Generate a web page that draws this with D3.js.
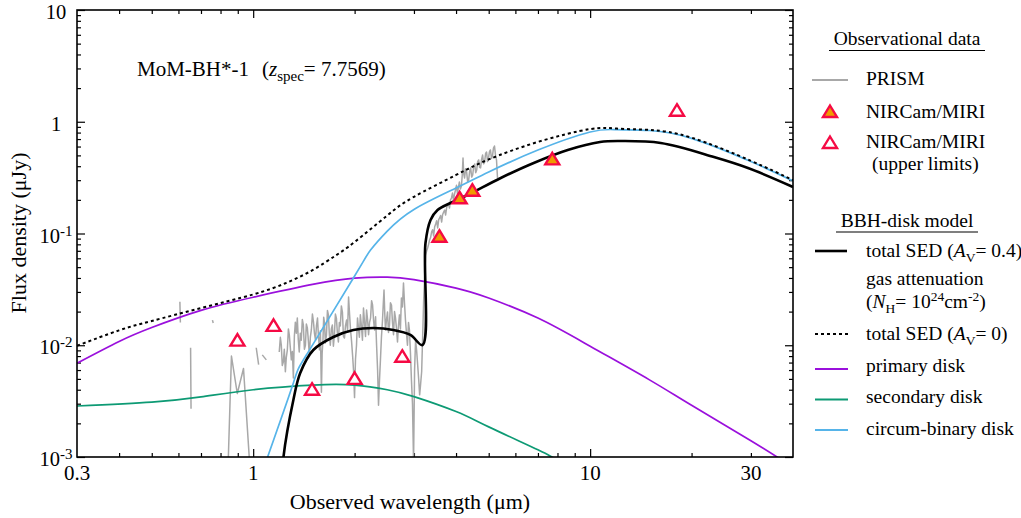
<!DOCTYPE html>
<html>
<head>
<meta charset="utf-8">
<script src="https://cdn.jsdelivr.net/npm/d3@7"></script>
<style>
  body { margin: 0; background: #fff; }
  svg { display: block; font-family: "Liberation Serif", "Times New Roman", serif; }
</style>
</head>
<body>
<div id="chart"></div>
<script>
// Wavelength in micron, flux density in microJy

// NIRSpec PRISM spectrum (null flux = gap in the spectrum)
const prismWave = [
  0.606, 0.608, 0.608,
  0.652, 0.654, 0.654,
  0.757, 0.761, 0.761,
  0.842, 0.862, 0.897, 0.936, 0.978, 0.978,
  1.021, 1.038, 1.038,
  1.064, 1.094, 1.094,
  1.195, 1.204, 1.212, 1.220, 1.229, 1.237, 1.246, 1.254, 1.263, 1.272,
  1.280, 1.289, 1.298, 1.307, 1.316, 1.325, 1.334, 1.343, 1.352, 1.361,
  1.370, 1.380, 1.389, 1.399, 1.409, 1.419, 1.429, 1.438, 1.448, 1.458,
  1.468, 1.478, 1.488, 1.499, 1.510, 1.520, 1.531, 1.541, 1.552, 1.562,
  1.573, 1.583, 1.594, 1.602, 1.611, 1.619, 1.627, 1.638, 1.650, 1.661,
  1.672, 1.683, 1.694, 1.706, 1.718, 1.730, 1.742, 1.754, 1.766, 1.778,
  1.790, 1.802, 1.814, 1.827, 1.840, 1.853, 1.866, 1.879, 1.893, 1.906,
  1.919, 1.932, 1.945, 1.958, 1.972, 1.985, 1.999, 2.012, 2.026, 2.040,
  2.053, 2.066, 2.080, 2.095, 2.110, 2.125, 2.140, 2.155, 2.170, 2.185,
  2.200, 2.215, 2.230, 2.246, 2.261, 2.277, 2.292, 2.308, 2.324, 2.340,
  2.355, 2.370, 2.386, 2.403, 2.420, 2.432, 2.445, 2.458, 2.470, 2.487,
  2.504, 2.521, 2.538, 2.555, 2.573, 2.591, 2.609, 2.627, 2.645, 2.663,
  2.681, 2.699, 2.717, 2.735, 2.754, 2.773, 2.793, 2.812, 2.831, 2.850,
  2.870, 2.890, 2.909, 2.929, 2.949, 2.970, 2.992, 3.013, 3.034, 3.055,
  3.077, 3.098, 3.119, 3.140, 3.162, 3.184, 3.206,
  3.250, 3.272, 3.294, 3.316, 3.338, 3.361, 3.384, 3.408, 3.432, 3.456,
  3.480, 3.504, 3.528, 3.552, 3.576, 3.600, 3.625, 3.650, 3.675, 3.700,
  3.725, 3.750, 3.775, 3.800, 3.825, 3.851, 3.877, 3.904, 3.931, 3.958,
  3.985, 4.012, 4.039, 4.066, 4.093, 4.121, 4.150, 4.172, 4.195, 4.217,
  4.240, 4.270, 4.300, 4.330, 4.360, 4.390, 4.420, 4.451, 4.482, 4.513,
  4.544, 4.575, 4.606, 4.637, 4.668, 4.699, 4.730, 4.763, 4.796, 4.829,
  4.862, 4.895, 4.928, 4.961, 4.994, 5.027, 5.060, 5.096, 5.131, 5.166,
  5.202, 5.238, 5.274, 5.310
];
const prismFlux = [
  0.0245, 0.0160, null,
  0.0095, 0.0027, null,
  0.0168, 0.0158, null,
  0.0008, 0.0080, 0.0037, 0.0062, 0.0008, null,
  0.0095, 0.0067, null,
  0.0082, 0.0074, null,
  0.0087, 0.0118, 0.0100, 0.0066, 0.0071, 0.0092, 0.0058, 0.0078, 0.0091, 0.0140,
  0.0124, 0.0095, 0.0074, 0.0088, 0.0051, 0.0120, 0.0161, 0.0128, 0.0175, 0.0112,
  0.0087, 0.0128, 0.0111, 0.0170, 0.0152, 0.0092, 0.0100, 0.0155, 0.0143, 0.0110,
  0.0082, 0.0118, 0.0137, 0.0190, 0.0161, 0.0128, 0.0111, 0.0150, 0.0175, 0.0120,
  0.0091, 0.0135, 0.0038, 0.0085, 0.0111, 0.0178, 0.0161, 0.0105, 0.0124, 0.0205,
  0.0187, 0.0125, 0.0100, 0.0140, 0.0152, 0.0098, 0.0124, 0.0190, 0.0175, 0.0128,
  0.0107, 0.0160, 0.0149, 0.0225, 0.0198, 0.0120, 0.0116, 0.0150, 0.0168, 0.0135,
  0.0270, 0.0190, 0.0137, 0.0110, 0.0082, 0.0060, 0.0034, 0.0075, 0.0100, 0.0175,
  0.0143, 0.0118, 0.0187, 0.0150, 0.0111, 0.0215, 0.0161, 0.0120, 0.0207, 0.0170,
  0.0124, 0.0160, 0.0175, 0.0250, 0.0229, 0.0165, 0.0137, 0.0180, 0.0100, 0.0060,
  0.0029, 0.0048, 0.0074, 0.0120, 0.0168, 0.0230, 0.0312, 0.0190, 0.0137, 0.0170,
  0.0198, 0.0130, 0.0152, 0.0240, 0.0229, 0.0160, 0.0124, 0.0200, 0.0175, 0.0140,
  0.0107, 0.0150, 0.0187, 0.0140, 0.0265, 0.0220, 0.0361, 0.0240, 0.0168, 0.0130,
  0.0100, 0.0160, 0.0137, 0.0085, 0.0049, 0.0030, 0.0009, 0.0060, 0.0111, 0.0090,
  0.0067, 0.0050, 0.0036, 0.0045, 0.0058, 0.0120, 0.0254,
  0.0642, 0.0700, 0.0742, 0.0800, 0.0875, 0.0920, 0.1031, 0.1080, 0.0950, 0.1150,
  0.1216, 0.1300, 0.1120, 0.1330, 0.1376, 0.1450, 0.1267, 0.1480, 0.1557, 0.1620,
  0.1464, 0.1700, 0.1799, 0.1850, 0.1691, 0.2000, 0.2078, 0.2300, 0.1995, 0.2250,
  0.2450, 0.2700, 0.2257, 0.2600, 0.2890, 0.2500, 0.2660, 0.3300, 0.4740, 0.3400,
  0.3136, 0.3800, 0.3550, 0.2900, 0.3010, 0.3600, 0.3860, 0.3200, 0.3340, 0.4000,
  0.4190, 0.3500, 0.3700, 0.4400, 0.4550, 0.3900, 0.3860, 0.4600, 0.5040, 0.4200,
  0.4360, 0.5200, 0.5360, 0.4400, 0.4740, 0.5400, 0.5590, 0.4700, 0.4940, 0.5800,
  0.6070, 0.5000, 0.4550, 0.3136
];

// NIRCam/MIRI photometry
const detWave = [3.57, 4.10, 4.47, 7.72];
const detFlux = [0.0936, 0.2065, 0.2415, 0.461];
const ulWave = [0.898, 1.149, 1.495, 2.00, 2.77, 18.1];
const ulFlux = [0.0110, 0.0149, 0.0040, 0.0050, 0.0079, 1.256];

// BBH-disk model components
const totalWave = [1.225, 1.23, 1.316, 1.379, 1.508, 1.73, 1.983, 2.274, 2.607, 2.928, 3.18,
  3.246, 3.36, 3.525, 3.85, 4.33, 5.43, 6.8, 8.58, 10.7, 12.3, 16.2, 23.3, 29.4, 40];
const totalFlux = [0.0008, 0.001, 0.00324, 0.00565, 0.00907, 0.01186, 0.0137, 0.01427, 0.0137, 0.01236, 0.01005,
  0.0822, 0.132, 0.162, 0.1875, 0.221, 0.314, 0.428, 0.559, 0.659, 0.672, 0.646, 0.484, 0.386, 0.261];

const intrinsicWave = [0.3, 0.4, 0.5, 0.7, 1, 1.25, 1.5, 1.75, 2, 2.5, 3, 4, 5, 7, 10, 12, 15, 20, 30, 40];
const intrinsicFlux = [0.0099, 0.0136, 0.0165, 0.0215, 0.0285, 0.036, 0.047, 0.063, 0.084, 0.145, 0.213,
  0.334, 0.46, 0.66, 0.86, 0.868, 0.845, 0.72, 0.447, 0.30];

const primaryWave = [0.3, 0.4, 0.5, 0.7, 1, 1.5, 2, 2.5, 3, 4, 5, 7, 10, 15, 20, 30, 40];
const primaryFlux = [0.0069, 0.0108, 0.0144, 0.0205, 0.0269, 0.0350, 0.0399, 0.0407, 0.0386, 0.0325,
  0.0265, 0.0175, 0.0098, 0.0049, 0.0029, 0.00140, 0.00081];

const secondaryWave = [0.3, 0.5, 0.7, 1, 1.5, 2, 2.5, 3, 4, 5, 7, 7.7, 8.5];
const secondaryFlux = [0.00286, 0.0031, 0.00345, 0.0040, 0.0044, 0.0044, 0.0040, 0.00347, 0.00255,
  0.00186, 0.00116, 0.00100, 0.00087];

const cbdWave = [1.09, 1.316, 1.45, 2, 2.23, 2.5, 3, 4, 5, 7, 10, 12, 15, 20, 30, 40];
const cbdFlux = [0.0009, 0.0046, 0.0085, 0.0417, 0.0711, 0.105, 0.164, 0.255, 0.355, 0.558, 0.81,
  0.85, 0.835, 0.71, 0.44, 0.295];

// Axis ticks
const xMajorTicks = [1, 10];
const xMinorTicks = [0.4, 0.5, 0.6, 0.7, 0.8, 0.9, 2, 3, 4, 5, 6, 7, 8, 9, 20, 30];
const xTickLabels = [["0.3", 0.3], ["1", 1], ["10", 10], ["30", 30]];
const yMajorTicks = [0.001, 0.01, 0.1, 1, 10];
const yTickLabels = [["10", "-3", 0.001], ["10", "-2", 0.01], ["10", "-1", 0.1], ["1", "", 1], ["10", "", 10]];

// Colours
const GREY = "#a8a8a8";
const PURPLE = "#9a10dc";
const GREEN = "#0d9a74";
const SKY = "#56b4e9";
const RED = "#f50a44";
const ORANGE = "#f09a00";

function zip(w, f) {
  return w.map((d, i) => ({ w: d, f: f[i] }));
}

function drawChart() {
  const width = 1021;
  const height = 518;
  const plot = { left: 77, right: 793, top: 10, bottom: 457 };

  const svg = d3
    .select("#chart")
    .append("svg")
    .attr("width", width)
    .attr("height", height)
    .attr("viewBox", `0 0 ${width} ${height}`);

  const x = d3.scaleLog().domain([0.3, 40]).range([plot.left, plot.right]);
  const y = d3.scaleLog().domain([0.001, 10]).range([plot.bottom, plot.top]);

  svg
    .append("defs")
    .append("clipPath")
    .attr("id", "plot-clip")
    .append("rect")
    .attr("x", plot.left)
    .attr("y", plot.top)
    .attr("width", plot.right - plot.left)
    .attr("height", plot.bottom - plot.top);

  // Minor y ticks 2..9 per decade
  const yMinorTicks = [];
  yMajorTicks.slice(0, -1).forEach((t) => {
    for (let k = 2; k <= 9; k++) yMinorTicks.push(t * k);
  });

  // Tick marks on all four sides (inward)
  const tickSets = [
    { axis: d3.axisBottom(x), vals: xMajorTicks, size: 8, tr: `translate(0,${plot.bottom})` },
    { axis: d3.axisBottom(x), vals: xMinorTicks, size: 4, tr: `translate(0,${plot.bottom})` },
    { axis: d3.axisTop(x), vals: xMajorTicks, size: 8, tr: `translate(0,${plot.top})` },
    { axis: d3.axisTop(x), vals: xMinorTicks, size: 4, tr: `translate(0,${plot.top})` },
    { axis: d3.axisLeft(y), vals: yMajorTicks, size: 8, tr: `translate(${plot.left},0)` },
    { axis: d3.axisLeft(y), vals: yMinorTicks, size: 4, tr: `translate(${plot.left},0)` },
    { axis: d3.axisRight(y), vals: yMajorTicks, size: 8, tr: `translate(${plot.right},0)` },
    { axis: d3.axisRight(y), vals: yMinorTicks, size: 4, tr: `translate(${plot.right},0)` },
  ];
  tickSets.forEach((s) => {
    const g = svg
      .append("g")
      .attr("transform", s.tr)
      .call(s.axis.tickValues(s.vals).tickSizeInner(-s.size).tickSizeOuter(0).tickFormat(""));
    g.select(".domain").remove();
    g.selectAll("line").attr("stroke", "#000").attr("stroke-width", 1.2);
  });

  const line = d3
    .line()
    .defined((d) => d.f != null)
    .x((d) => x(d.w))
    .y((d) => y(d.f));

  const curves = svg.append("g").attr("clip-path", "url(#plot-clip)");

  // PRISM spectrum
  curves
    .append("path")
    .datum(zip(prismWave, prismFlux))
    .attr("fill", "none")
    .attr("stroke", GREY)
    .attr("stroke-width", 1.5)
    .attr("stroke-linejoin", "round")
    .attr("d", line.curve(d3.curveLinear));

  const modelLines = [
    { w: secondaryWave, f: secondaryFlux, color: GREEN, sw: 1.7, curve: d3.curveNatural },
    { w: primaryWave, f: primaryFlux, color: PURPLE, sw: 1.7, curve: d3.curveNatural },
    { w: cbdWave, f: cbdFlux, color: SKY, sw: 1.7, curve: d3.curveNatural },
    { w: intrinsicWave, f: intrinsicFlux, color: "#000", sw: 2, dash: "3,3", curve: d3.curveNatural },
    { w: totalWave, f: totalFlux, color: "#000", sw: 2.6, curve: d3.curveCatmullRom.alpha(0.5) },
  ];
  modelLines.forEach((m) => {
    curves
      .append("path")
      .datum(zip(m.w, m.f))
      .attr("fill", "none")
      .attr("stroke", m.color)
      .attr("stroke-width", m.sw)
      .attr("stroke-dasharray", m.dash || null)
      .attr("d", line.curve(m.curve));
  });

  // Photometry triangles
  const tri = "M0,-6.5L7,5L-7,5Z";
  svg
    .append("g")
    .selectAll("path")
    .data(zip(ulWave, ulFlux))
    .join("path")
    .attr("transform", (d) => `translate(${x(d.w)},${y(d.f)})`)
    .attr("d", tri)
    .attr("fill", "#fff")
    .attr("stroke", RED)
    .attr("stroke-width", 2.4);
  svg
    .append("g")
    .selectAll("path")
    .data(zip(detWave, detFlux))
    .join("path")
    .attr("transform", (d) => `translate(${x(d.w)},${y(d.f)})`)
    .attr("d", tri)
    .attr("fill", ORANGE)
    .attr("stroke", RED)
    .attr("stroke-width", 2.4);

  // Frame
  svg
    .append("rect")
    .attr("x", plot.left)
    .attr("y", plot.top)
    .attr("width", plot.right - plot.left)
    .attr("height", plot.bottom - plot.top)
    .attr("fill", "none")
    .attr("stroke", "#000")
    .attr("stroke-width", 1.6);

  // Tick labels
  svg
    .append("g")
    .selectAll("text")
    .data(xTickLabels)
    .join("text")
    .attr("x", (d) => x(d[1]))
    .attr("y", 480)
    .attr("text-anchor", "middle")
    .style("font-size", "21px")
    .text((d) => d[0]);

  const yl = svg
    .append("g")
    .selectAll("text")
    .data(yTickLabels)
    .join("text")
    .attr("x", 56)
    .attr("y", (d) => y(d[2]) + 9)
    .attr("text-anchor", "middle")
    .style("font-size", "20.5px");
  yl.append("tspan").text((d) => d[0]);
  yl.filter((d) => d[1])
    .append("tspan")
    .attr("dy", -7)
    .style("font-size", "15px")
    .text((d) => d[1]);

  // Axis titles
  svg
    .append("text")
    .attr("x", 410)
    .attr("y", 509)
    .attr("text-anchor", "middle")
    .style("font-size", "22px")
    .text("Observed wavelength (μm)");
  svg
    .append("text")
    .attr("transform", "translate(26,233) rotate(-90)")
    .attr("text-anchor", "middle")
    .style("font-size", "22px")
    .text("Flux density (μJy)");

  // Object annotation
  const ann = svg.append("text").attr("x", 137).attr("y", 76).style("font-size", "21px");
  ann.append("tspan").text("MoM-BH*-1");
  ann.append("tspan").attr("x", 262).text("(");
  ann.append("tspan").style("font-style", "italic").text("z");
  ann.append("tspan").attr("dy", 5).style("font-size", "15px").text("spec");
  ann.append("tspan").attr("dy", -5).text("= 7.7569)");

  // Legend
  const lg = svg.append("g").style("font-size", "19.5px");
  const tx = 866;

  lg.append("text").attr("x", 907).attr("y", 45).attr("text-anchor", "middle").text("Observational data");
  lg.append("line").attr("x1", 829).attr("x2", 985).attr("y1", 50.5).attr("y2", 50.5).attr("stroke", "#000").attr("stroke-width", 1.2);

  lg.append("line").attr("x1", 812).attr("x2", 848).attr("y1", 80).attr("y2", 80).attr("stroke", GREY).attr("stroke-width", 2);
  lg.append("text").attr("x", tx).attr("y", 85).text("PRISM");

  lg.append("path").attr("transform", "translate(830,112)").attr("d", tri).attr("fill", ORANGE).attr("stroke", RED).attr("stroke-width", 2.4);
  lg.append("text").attr("x", tx).attr("y", 118).text("NIRCam/MIRI");

  lg.append("path").attr("transform", "translate(830,143)").attr("d", tri).attr("fill", "#fff").attr("stroke", RED).attr("stroke-width", 2.4);
  lg.append("text").attr("x", tx).attr("y", 148).text("NIRCam/MIRI");
  lg.append("text").attr("x", 872).attr("y", 170).text("(upper limits)");

  lg.append("text").attr("x", 907).attr("y", 227).attr("text-anchor", "middle").text("BBH-disk model");
  lg.append("line").attr("x1", 836).attr("x2", 978).attr("y1", 232).attr("y2", 232).attr("stroke", "#000").attr("stroke-width", 1.2);

  lg.append("line").attr("x1", 815).attr("x2", 847).attr("y1", 251).attr("y2", 251).attr("stroke", "#000").attr("stroke-width", 2.6);
  const t1 = lg.append("text").attr("x", tx).attr("y", 257);
  t1.append("tspan").text("total SED (");
  t1.append("tspan").style("font-style", "italic").text("A");
  t1.append("tspan").attr("dy", 5).style("font-size", "13.5px").text("V");
  t1.append("tspan").attr("dy", -5).text("= 0.4)");

  lg.append("text").attr("x", tx).attr("y", 285).text("gas attenuation");
  const t2 = lg.append("text").attr("x", tx).attr("y", 308);
  t2.append("tspan").text("(");
  t2.append("tspan").style("font-style", "italic").text("N");
  t2.append("tspan").attr("dy", 5).style("font-size", "13.5px").text("H");
  t2.append("tspan").attr("dy", -5).text("= 10");
  t2.append("tspan").attr("dy", -7).style("font-size", "13.5px").text("24");
  t2.append("tspan").attr("dy", 7).text("cm");
  t2.append("tspan").attr("dy", -7).style("font-size", "13.5px").text("-2");
  t2.append("tspan").attr("dy", 7).text(")");

  lg.append("line").attr("x1", 815).attr("x2", 848).attr("y1", 334).attr("y2", 334).attr("stroke", "#000").attr("stroke-width", 2).attr("stroke-dasharray", "3,3");
  const t3 = lg.append("text").attr("x", tx).attr("y", 340);
  t3.append("tspan").text("total SED (");
  t3.append("tspan").style("font-style", "italic").text("A");
  t3.append("tspan").attr("dy", 5).style("font-size", "13.5px").text("V");
  t3.append("tspan").attr("dy", -5).text("= 0)");

  const comps = [
    ["primary disk", PURPLE, 369, 372],
    ["secondary disk", GREEN, 399.5, 403],
    ["circum-binary disk", SKY, 430, 435],
  ];
  comps.forEach((c) => {
    lg.append("line").attr("x1", 815).attr("x2", 848).attr("y1", c[2]).attr("y2", c[2]).attr("stroke", c[1]).attr("stroke-width", 2);
    lg.append("text").attr("x", tx).attr("y", c[3]).text(c[0]);
  });
}

drawChart();
</script>
</body>
</html>
